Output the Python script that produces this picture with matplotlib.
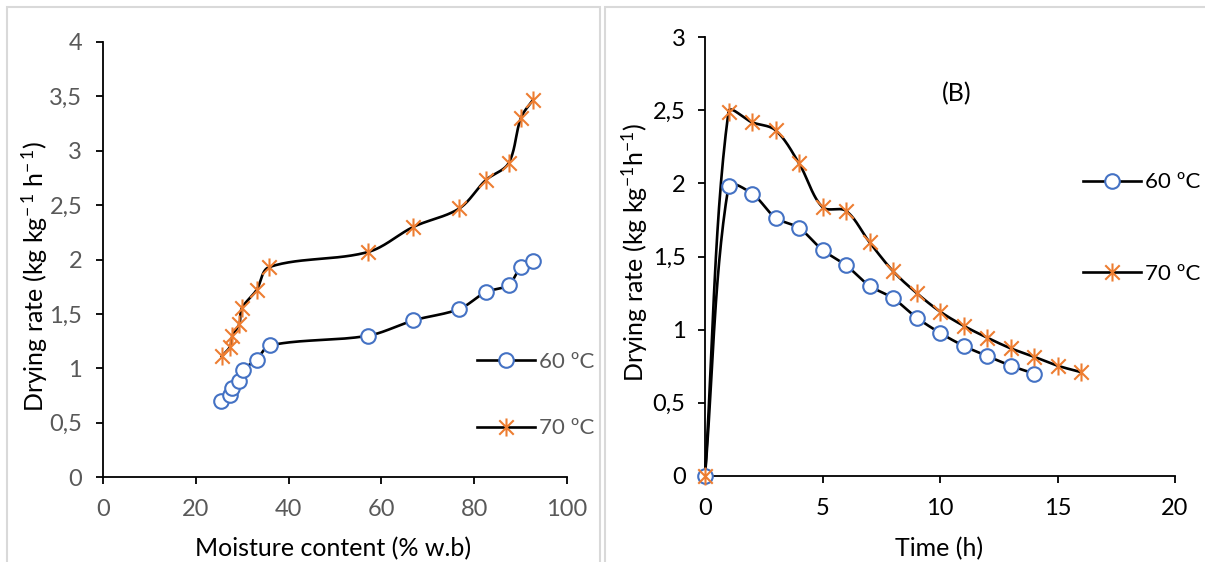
import numpy as np
import matplotlib
matplotlib.use('Agg')
import matplotlib.pyplot as plt
from matplotlib.path import Path
from matplotlib.patches import Rectangle
from matplotlib.lines import Line2D
from matplotlib.ticker import FuncFormatter, MultipleLocator

plt.rcParams['font.family'] = ['Lato', 'DejaVu Sans']
plt.rcParams['mathtext.fontset'] = 'custom'
plt.rcParams['mathtext.rm'] = 'Lato'

# (A) drying rate vs moisture content
mc_60 = [25.4, 27.4, 27.7, 29.4, 30.1, 33.1, 36.0, 57.2, 66.9, 76.8, 82.5, 87.4, 90.1, 92.7]
dr_60 = [0.70, 0.75, 0.82, 0.885, 0.98, 1.08, 1.21, 1.30, 1.44, 1.545, 1.70, 1.765, 1.935, 1.99]
mc_70 = [25.6, 27.4, 27.9, 29.4, 29.9, 33.1, 35.8, 57.2, 66.9, 76.8, 82.5, 87.4, 90.1, 92.7]
dr_70 = [1.11, 1.20, 1.30, 1.41, 1.55, 1.72, 1.93, 2.07, 2.30, 2.47, 2.73, 2.885, 3.305, 3.47]

# (B) drying rate vs time
t_60 = [0, 1, 2, 3, 4, 5, 6, 7, 8, 9, 10, 11, 12, 13, 14]
r_60 = [0, 1.98, 1.93, 1.765, 1.695, 1.545, 1.44, 1.30, 1.215, 1.083, 0.978, 0.89, 0.82, 0.754, 0.70]
t_70 = [0, 1, 2, 3, 4, 5, 6, 7, 8, 9, 10, 11, 12, 13, 14, 15, 16]
r_70 = [0, 2.49, 2.417, 2.363, 2.137, 1.837, 1.812, 1.598, 1.40, 1.251, 1.124, 1.027, 0.946, 0.873, 0.815, 0.754, 0.71]

BLUE = '#4472C4'
ORANGE = '#ED7D31'

# excel-like star marker: vertical bar + X
star = Path([(0, -1), (0, 1), (-0.8, -0.8), (0.8, 0.8), (-0.8, 0.8), (0.8, -0.8)],
            [Path.MOVETO, Path.LINETO] * 3)


def smooth(x, y, sx, sy, n=30):
    # bezier smoothing like excel "smoothed line", done in pixel space,
    # control arms weighted by neighbouring segment lengths
    P = np.column_stack([np.asarray(x, float) * sx, np.asarray(y, float) * sy])
    out = [P[0]]
    t = np.linspace(0, 1, n)[1:, None]
    for i in range(len(P) - 1):
        p0 = P[max(i - 1, 0)]
        p1 = P[i]
        p2 = P[i + 1]
        p3 = P[min(i + 2, len(P) - 1)]
        d01 = np.hypot(*(p1 - p0))
        d12 = np.hypot(*(p2 - p1))
        d23 = np.hypot(*(p3 - p2))
        if d01 == 0:
            c1 = p1 + (p2 - p1) / 3
        else:
            c1 = p1 + (p2 - p0) * d12 / (d01 + d12) / 3
        if d23 == 0:
            c2 = p2 - (p2 - p1) / 3
        else:
            c2 = p2 - (p3 - p1) * d12 / (d12 + d23) / 3
        seg = (1 - t) ** 3 * p1 + 3 * (1 - t) ** 2 * t * c1 + 3 * (1 - t) * t ** 2 * c2 + t ** 3 * p2
        out.extend(seg)
    out = np.array(out)
    return out[:, 0] / sx, out[:, 1] / sy


def comma(v, pos):
    return ('%g' % v).replace('.', ',')


def style_axes(ax, tickcol, ypad):
    for s in ['top', 'right']:
        ax.spines[s].set_visible(False)
    for s in ['left', 'bottom']:
        ax.spines[s].set_linewidth(1.3)
        ax.spines[s].set_color('black')
    ax.tick_params(axis='both', direction='out', length=5, width=1.3, labelsize=17,
                   labelcolor=tickcol, color='black')
    ax.tick_params(axis='y', pad=ypad)
    ax.tick_params(axis='x', pad=11)
    ax.yaxis.set_major_formatter(FuncFormatter(comma))


def draw(ax, x, y, w, h, xmax, ymax, marker, col, ms):
    sx = w / xmax
    sy = h / ymax
    xs, ys = smooth(x, y, sx, sy)
    ax.plot(xs, ys, color='black', lw=1.9, zorder=3, clip_on=False)
    ax.plot(x, y, linestyle='none', marker=marker, markersize=ms, mfc='white',
            mec=col, mew=1.5, zorder=4, clip_on=False)


fig = plt.figure(figsize=(12.05, 5.62), dpi=100)

# panel frames
fig.patches.append(Rectangle((7 / 1205, -0.05), 593 / 1205, 1.05 - 7 / 562, transform=fig.transFigure,
                             fill=False, edgecolor='#d9d9d9', lw=1.5))
fig.patches.append(Rectangle((605 / 1205, -0.05), 0.6, 1.05 - 7 / 562, transform=fig.transFigure,
                             fill=False, edgecolor='#d9d9d9', lw=1.5))

ax1 = fig.add_axes([103 / 1205, 1 - 477 / 562, 464 / 1205, 435 / 562])
ax2 = fig.add_axes([705 / 1205, 1 - 476 / 562, 470 / 1205, 439 / 562])

# left panel
ax1.set_xlim(0, 100)
ax1.set_ylim(0, 4)
ax1.xaxis.set_major_locator(MultipleLocator(20))
ax1.yaxis.set_major_locator(MultipleLocator(0.5))
style_axes(ax1, '#595959', 10)
draw(ax1, mc_60, dr_60, 464, 435, 100, 4, 'o', BLUE, 10.5)
draw(ax1, mc_70, dr_70, 464, 435, 100, 4, star, ORANGE, 13)
ax1.set_xlabel('Moisture content (% w.b)', fontsize=18, color='black')
ax1.xaxis.set_label_coords(0.496, -0.138)
ax1.set_ylabel('Drying rate (kg kg$\\mathregular{^{-\\,1}}$ h$\\mathregular{^{-\\,1}}$)', fontsize=18, color='black')
ax1.yaxis.set_label_coords(-0.115, 0.46)

# right panel
ax2.set_xlim(0, 20)
ax2.set_ylim(0, 3)
ax2.xaxis.set_major_locator(MultipleLocator(5))
ax2.yaxis.set_major_locator(MultipleLocator(0.5))
style_axes(ax2, 'black', 9)
draw(ax2, t_60, r_60, 470, 439, 20, 3, 'o', BLUE, 10.5)
draw(ax2, t_70, r_70, 470, 439, 20, 3, star, ORANGE, 13)
ax2.set_xlabel('Time (h)', fontsize=18, color='black')
ax2.xaxis.set_label_coords(0.498, -0.14)
ax2.set_ylabel('Drying rate (kg kg$\\mathregular{^{-1}}$h$\\mathregular{^{-1}}$)', fontsize=18, color='black')
ax2.yaxis.set_label_coords(-0.118, 0.51)
ax2.text(0.536, 0.87, '(B)', transform=ax2.transAxes, fontsize=18, ha='center', va='center')


def handles():
    h1 = Line2D([], [], color='black', lw=1.9, marker='o', markersize=10.5, mfc='white', mec=BLUE, mew=1.5)
    h2 = Line2D([], [], color='black', lw=1.9, marker=star, markersize=13, mfc='white', mec=ORANGE, mew=1.5)
    return [h1, h2]


labels = ['60 ºC', '70 ºC']
fig.legend(handles(), labels, loc='center left', bbox_to_anchor=(477 / 1205, 1 - 395 / 562),
           frameon=False, fontsize=16, labelcolor='#595959', handlelength=2.6, handletextpad=0.2,
           labelspacing=2.1, borderpad=0, borderaxespad=0)
fig.legend(handles(), labels, loc='center left', bbox_to_anchor=(1083 / 1205, 1 - 228 / 562),
           frameon=False, fontsize=16, labelcolor='black', handlelength=2.6, handletextpad=0.2,
           labelspacing=3.2, borderpad=0, borderaxespad=0)

fig.savefig('out.png', dpi=100)
